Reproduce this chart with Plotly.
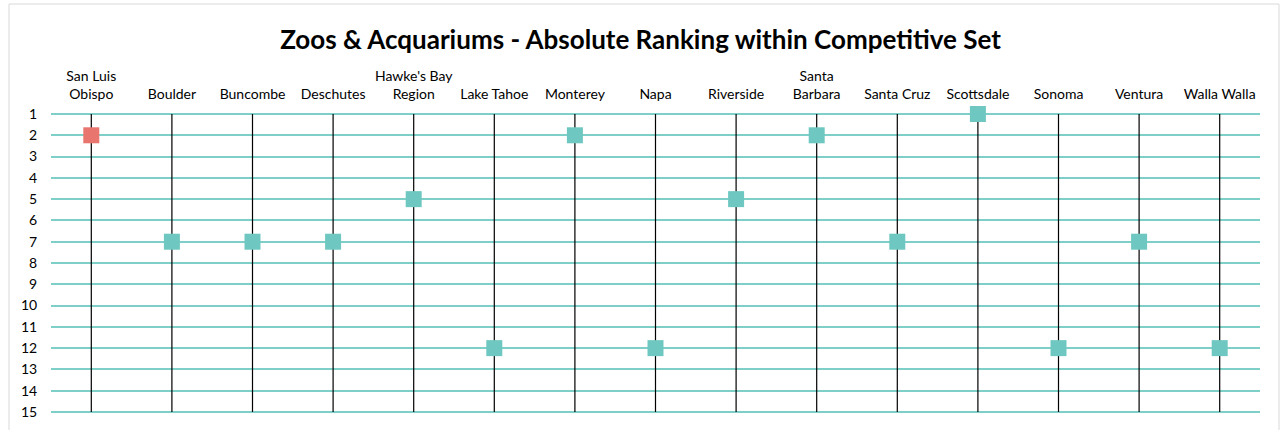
import plotly.graph_objects as go

categories = ["San Luis<br>Obispo", "Boulder", "Buncombe", "Deschutes", "Hawke's Bay<br>Region",
              "Lake Tahoe", "Monterey", "Napa", "Riverside", "Santa<br>Barbara",
              "Santa Cruz", "Scottsdale", "Sonoma", "Ventura", "Walla Walla"]
ranks = [2, 7, 7, 7, 5, 12, 2, 12, 5, 2, 7, 1, 12, 7, 12]
highlight = "San Luis<br>Obispo"
title = "Zoos & Acquariums - Absolute Ranking within Competitive Set"
y_ticks = list(range(1, 16))

teal = "#6EC8C1"
red = "#E8766E"
colors = [red if c == highlight else teal for c in categories]

# vertical black stems per category spanning the rank scale
stem_x, stem_y = [], []
for c in categories:
    stem_x += [c, c, None]
    stem_y += [y_ticks[0], y_ticks[-1], None]

fig = go.Figure()
fig.add_trace(go.Scatter(
    x=stem_x, y=stem_y, mode="lines", line=dict(color="#000000", width=1.2),
    showlegend=False, hoverinfo="skip",
))
fig.add_trace(go.Scatter(
    x=categories, y=ranks, mode="markers",
    marker=dict(symbol="square", size=16, color=colors, line=dict(width=0)),
    cliponaxis=False, showlegend=False, hoverinfo="x+y",
))

W, H = 1281, 430
pad = 3  # extra px around the rank range so edge gridlines are kept
l, r, t, b = 51, 21, 114 - pad, 18 - pad
pw, ph = W - l - r, H - t - b
step = (ph - 2 * pad) / (y_ticks[-1] - y_ticks[0])
ext = pad / step

fig.update_layout(
    width=W, height=H,
    margin=dict(l=l, r=r, t=t, b=b),
    paper_bgcolor="white", plot_bgcolor="white",
    font=dict(family="Lato, Open Sans, sans-serif", size=14, color="#000000"),
    title=dict(text="<b>" + title + "</b>", x=0.5, xanchor="center", y=1 - 40 / H, yanchor="middle",
               font=dict(size=26, color="#000000")),
    xaxis=dict(side="top", type="category", showgrid=False,
               showline=False, zeroline=False, ticks="outside", ticklen=8 - pad, tickcolor="rgba(0,0,0,0)",
               tickfont=dict(size=14), automargin=False,
               range=[-0.5, len(categories) - 0.5]),
    yaxis=dict(range=[y_ticks[-1] + ext, y_ticks[0] - ext], tickvals=y_ticks, showgrid=True,
               gridcolor="#7ECFC8", gridwidth=1.5,
               showline=False, zeroline=False, ticks="outside", ticklen=10, tickcolor="rgba(0,0,0,0)",
               tickfont=dict(size=14), automargin=False),
    shapes=[dict(type="rect", xref="paper", yref="paper",
                 x0=(9 - l) / pw, x1=(1279 - l) / pw,
                 y0=(t + ph - 440) / ph, y1=(t + ph - 4) / ph,
                 line=dict(color="#D9D9D9", width=1), fillcolor="rgba(0,0,0,0)", layer="below")],
)
fig.write_html("out.html", config={"displayModeBar": False},
               post_script="document.body.style.margin='0';")
